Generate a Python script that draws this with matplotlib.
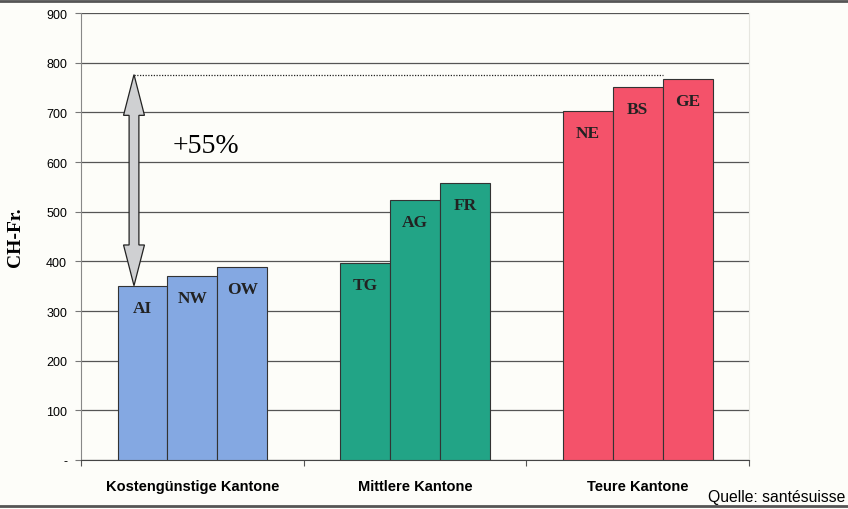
import matplotlib.pyplot as plt
from matplotlib.patches import Polygon
from matplotlib.lines import Line2D

# Prämien pro Kanton (CH-Fr.)
groups = ['Kostengünstige Kantone', 'Mittlere Kantone', 'Teure Kantone']
cantons = [['AI', 'NW', 'OW'], ['TG', 'AG', 'FR'], ['NE', 'BS', 'GE']]
values = [[351, 370, 389], [397, 524, 558], [703, 751, 768]]
colors = ['#84a8e2', '#22a486', '#f4526a']
yticks = [0, 100, 200, 300, 400, 500, 600, 700, 800, 900]
ytick_labels = ['-', '100', '200', '300', '400', '500', '600', '700', '800', '900']
diff_label = '+55%'
diff_top = 776

bg = '#fdfdf9'
fig = plt.figure(figsize=(8.48, 5.10), dpi=100, facecolor=bg)
ax = fig.add_axes([0.0955, 0.096, 0.788, 0.8765])
ax.set_facecolor(bg)

bw = 0.224
for g in range(len(groups)):
    for k in range(3):
        x = g + (k - 1) * bw
        ax.bar(x, values[g][k], width=bw, color=colors[g], edgecolor='#333333',
               linewidth=0.8, zorder=3)
        ax.annotate(cantons[g][k], (x, values[g][k]), xytext=(0, -16),
                    textcoords='offset points', ha='center', va='center',
                    fontsize=12.5, fontweight='bold', family='Liberation Serif',
                    color='#222222', zorder=4)

ax.set_xlim(-0.5, 2.5)
ax.set_ylim(0, 900)
ax.set_yticks(yticks)
ax.set_yticklabels(ytick_labels, family='Liberation Sans', fontsize=9)
ax.yaxis.grid(True, color='#555555', linewidth=0.9, zorder=0)
ax.tick_params(axis='y', length=4, width=0.8, color='#777777', pad=6)
ax.set_xticks(range(len(groups)))
ax.set_xticklabels(groups, family='Liberation Sans', fontsize=10.5, fontweight='bold')
ax.set_xticks([-0.5, 0.5, 1.5, 2.5], minor=True)
ax.tick_params(axis='x', which='major', length=0, pad=14)
ax.tick_params(axis='x', which='minor', length=4, width=0.8, color='#555555')
ax.set_ylabel('CH-Fr.', family='Liberation Serif', fontsize=14, fontweight='bold',
              labelpad=16)

ax.spines['top'].set_visible(False)
ax.spines['right'].set_color('#e6e6e0')
ax.spines['left'].set_color('#888888')
ax.spines['bottom'].set_color('#444444')

# Doppelpfeil von AI bis zum teuersten Niveau
ax_x = -0.262
low = values[0][0]
sw, hw, hl = 0.022, 0.047, 82
pts = [(ax_x, low), (ax_x + hw, low + hl), (ax_x + sw, low + hl),
       (ax_x + sw, diff_top - hl), (ax_x + hw, diff_top - hl), (ax_x, diff_top),
       (ax_x - hw, diff_top - hl), (ax_x - sw, diff_top - hl),
       (ax_x - sw, low + hl), (ax_x - hw, low + hl)]
ax.add_patch(Polygon(pts, closed=True, facecolor='#cfd0d2', edgecolor='#222222',
                     linewidth=0.9, zorder=5))
ax.plot([ax_x, 2 + bw / 2], [diff_top, diff_top], linestyle=(0, (1, 1.2)),
        color='#222222', linewidth=0.9, zorder=4)
ax.text(-0.09, 634, diff_label, family='Liberation Serif', fontsize=20,
        ha='left', va='center', zorder=5)

fig.text(0.997, 0.025, 'Quelle: santésuisse', family='Liberation Sans',
         fontsize=11.3, ha='right', va='center')
fig.add_artist(Line2D([0, 1], [0.997, 0.997], color='#555555', linewidth=2))
fig.add_artist(Line2D([0, 1], [0.006, 0.006], color='#555555', linewidth=2))

fig.savefig('out.png', dpi=100, facecolor=bg)
